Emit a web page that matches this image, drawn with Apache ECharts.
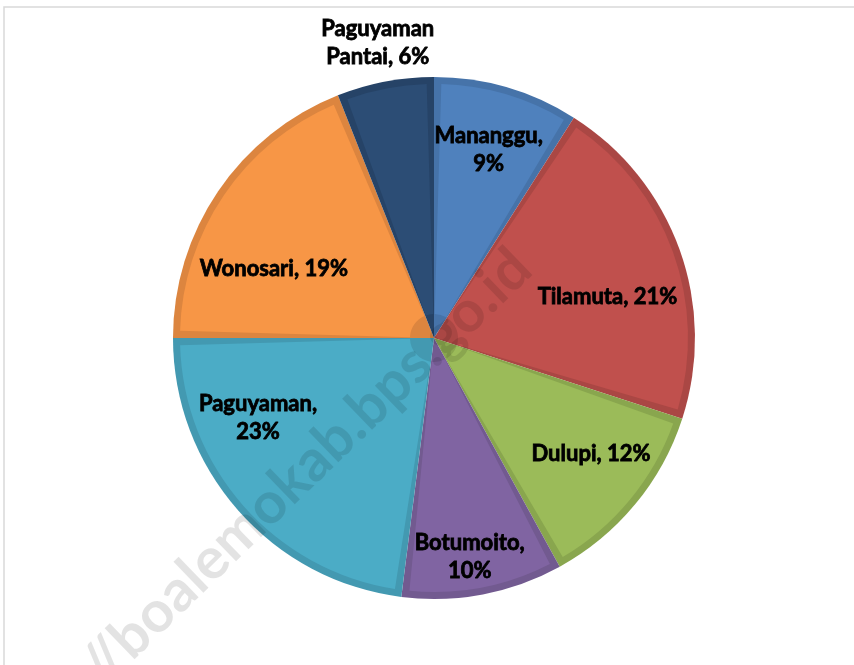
<!DOCTYPE html>
<html>
<head>
<meta charset="utf-8">
<style>
  html, body { margin: 0; padding: 0; background: #fff; }
  #chart { width: 854px; height: 665px; }
</style>
<script src="https://cdn.jsdelivr.net/npm/echarts@6/dist/echarts.min.js"></script>
</head>
<body>
<div id="chart"></div>
<script>
// data
var kecamatan = ['Mananggu', 'Tilamuta', 'Dulupi', 'Botumoito', 'Paguyaman', 'Wonosari', 'Paguyaman Pantai'];
var persen = [9, 21, 12, 10, 23, 19, 6];

// styles
var fillColor = ['#4f81bd', '#c0504d', '#9bbb59', '#8064a2', '#4bacc6', '#f79646', '#2c4d75'];
var edgeColor = ['#4673a9', '#aa4744', '#89a64e', '#725a90', '#4399b1', '#dc853f', '#264367'];
var wrapAfterComma = ['Mananggu', 'Botumoito', 'Paguyaman'];
var labelNudge = {
    'Tilamuta': [-11, 25],
    'Dulupi': [6, -9],
    'Botumoito': [-1, 26],
    'Paguyaman': [-29, -50],
    'Wonosari': [2, 41]
};

var pieCenter = [434, 338];

function items(colors) {
    return kecamatan.map(function (n, i) {
        return { name: n, value: persen[i], itemStyle: { color: colors ? colors[i] : 'rgba(0,0,0,0)' } };
    });
}

function labelText(p) {
    if (p.name === 'Paguyaman Pantai') return 'Paguyaman\nPantai, ' + p.value + '%';
    if (wrapAfterComma.indexOf(p.name) > -1) return p.name + ',\n' + p.value + '%';
    return p.name + ', ' + p.value + '%';
}

var labelFont = {
    fontFamily: 'Lato',
    fontWeight: 'bold',
    fontSize: 22,
    lineHeight: 28,
    color: '#000',
    textBorderColor: '#000',
    textBorderWidth: 0.8
};

var chart = echarts.init(document.getElementById('chart'));

var option = {
    animation: false,
    graphic: [
        {
            type: 'rect',
            z: -10,
            shape: { x: 4, y: 7, width: 900, height: 700 },
            style: { fill: '#fff', stroke: '#d9d9d9', lineWidth: 1.5 }
        },
        {
            type: 'text',
            z: 100,
            x: 542,
            y: 280,
            rotation: 44 * Math.PI / 180,
            style: {
                text: 'http://boalemokab.bps.go.id',
                fontFamily: 'Lato',
                fontWeight: 'bold',
                fontSize: 58,
                fill: 'rgba(0,0,0,0.11)',
                textAlign: 'right',
                textVerticalAlign: 'bottom'
            }
        }
    ],
    series: [
        {
            // darker rim of every slice
            type: 'pie',
            silent: true,
            center: pieCenter,
            radius: [0, 261],
            startAngle: 90,
            label: { show: false },
            labelLine: { show: false },
            data: items(edgeColor)
        },
        {
            // lighter body
            type: 'pie',
            silent: true,
            center: pieCenter,
            radius: [24, 254],
            startAngle: 90,
            padAngle: 3.3,
            label: { show: false },
            labelLine: { show: false },
            data: items(fillColor)
        },
        {
            // labels inside the slices
            type: 'pie',
            silent: true,
            center: pieCenter,
            radius: [130, 256],
            startAngle: 90,
            label: Object.assign({
                show: true,
                position: 'inside',
                formatter: function (p) {
                    return p.name === 'Paguyaman Pantai' ? '' : labelText(p);
                }
            }, labelFont),
            labelLine: { show: false },
            labelLayout: function (p) {
                var n = labelNudge[kecamatan[p.dataIndex]];
                return n ? { dx: n[0], dy: n[1] } : {};
            },
            data: items(null)
        },
        {
            // outside label for the small slice
            type: 'pie',
            silent: true,
            center: pieCenter,
            radius: [261, 333],
            startAngle: 90,
            label: Object.assign({
                show: true,
                position: 'inside',
                formatter: function (p) {
                    return p.name === 'Paguyaman Pantai' ? labelText(p) : '';
                }
            }, labelFont),
            labelLine: { show: false },
            data: items(null)
        }
    ]
};

chart.setOption(option);

window.addEventListener('resize', function () {
    chart.resize();
});
</script>
</body>
</html>
